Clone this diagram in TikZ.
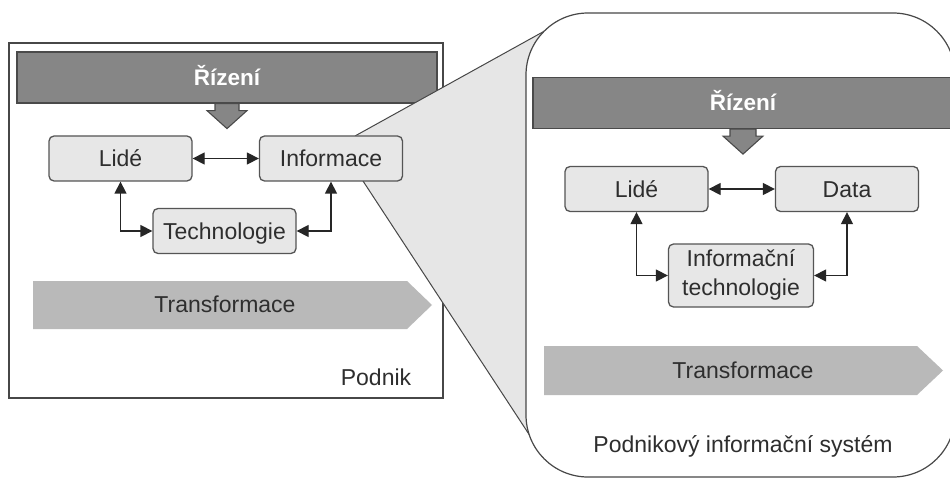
\documentclass[tikz,border=0pt]{standalone}
\usepackage{fontspec}
\setmainfont{Liberation Sans}
\usetikzlibrary{arrows.meta}
\definecolor{bardark}{HTML}{868686}
\definecolor{barline}{HTML}{4A4A4A}
\definecolor{boxfill}{HTML}{E7E7E7}
\definecolor{boxline}{HTML}{555555}
\definecolor{trfill}{HTML}{B9B9B9}
\definecolor{funnelfill}{HTML}{E6E6E6}
\definecolor{txt}{HTML}{2E2E2E}
\definecolor{frameline}{HTML}{474747}
\begin{document}
\begin{tikzpicture}[x=1pt,y=-1pt,
  every node/.style={font=\fontsize{23}{29}\selectfont, text=txt},
  bar/.style={draw=barline, fill=bardark, line width=1.2pt, minimum width=420pt,
    minimum height=51pt, inner sep=0pt, text=white,
    font=\fontsize{22.5}{29}\selectfont\bfseries, text height=16pt, text depth=0pt},
  downarrow/.style={draw=barline, fill=bardark, line width=1.1pt, line join=miter},
  box/.style={draw=boxline, fill=boxfill, rounded corners=5pt, line width=1.3pt,
    minimum width=143pt, minimum height=45pt, inner sep=0pt,
    text height=16pt, text depth=0pt},
  itbox/.style={draw=boxline, fill=boxfill, rounded corners=5pt, line width=1.3pt,
    minimum width=145pt, minimum height=63pt, inner sep=0pt},
  conn/.style={draw=black!85, line width=1.3pt,
    {Triangle[length=12pt,width=12pt]}-{Triangle[length=12pt,width=12pt]}},
  trshape/.style={fill=trfill},
  frame/.style={draw=frameline, line width=1.2pt},
  funnelline/.style={draw=frameline, line width=1pt},
  label/.style={anchor=base, inner sep=0pt}
]
\useasboundingbox (0,0) rectangle (950,481);
\clip (0,0) rectangle (950,481);

% ---------- left panel: Podnik ----------
\node[frame, fill=white, minimum width=434pt, minimum height=355pt, inner sep=0pt] (podnik) at (226,220.5) {};
\node[bar] (bar1) at (227,77.5) {Řízení};
\draw[downarrow] (bar1.south) ++(-2,0) ++(-10,0) -- ++(0,7) -- ++(-8,0) -- ++(20,18) -- ++(20,-18) -- ++(-8,0) -- ++(0,-7) -- cycle;
\fill[trshape] (33,281) -- (407,281) -- (432,305) -- (407,329) -- (33,329) -- cycle;
\node[label] (tr1) at (225,312) {Transformace};
\node[label] (podniktext) at (376,385) {Podnik};

% ---------- funnel ----------
\coordinate (fa) at (355,136);
\coordinate (fb) at (544.2,31.2);
\coordinate (fc) at (363,181);
\coordinate (fd) at (529.2,434.6);
\fill[funnelfill] (fa) -- (fb) -- (600,60) -- (600,440) -- (fd) -- (fc) -- cycle;
\draw[funnelline] (fa) -- (fb);
\draw[funnelline] (fc) -- (fd);

% ---------- left boxes ----------
\node[box] (lide1) at (120.5,158.5) {Lidé};
\node[box] (info1) at (331,158.5) {Informace};
\node[box] (tech1) at (224.5,231) {Technologie};
\draw[conn] (lide1) -- (info1);
\draw[conn] (lide1.south) |- (tech1.west);
\draw[conn] (info1.south) |- (tech1.east);

% ---------- right panel: Podnikový informační systém ----------
\node[frame, fill=white, rounded corners=62pt, minimum width=429pt, minimum height=464pt, inner sep=0pt] (pis) at (740.5,245) {};
\node[bar] (bar2) at (743,103) {Řízení};
\draw[downarrow] (bar2.south) ++(-1,0) ++(-12,0) -- ++(0,7) -- ++(-7,0) -- ++(20,18) -- ++(20,-18) -- ++(-7,0) -- ++(0,-7) -- cycle;
\node[box] (lide2) at (636.5,189) {Lidé};
\node[box] (data2) at (847,189) {Data};
\node[itbox] (it2) at (741,275.5) {\begin{tabular}{@{}c@{}}Informační\\technologie\end{tabular}};
\draw[conn] (lide2) -- (data2);
\draw[conn] (lide2.south) |- (it2.west);
\draw[conn] (data2.south) |- (it2.east);
\fill[trshape] (544,346) -- (917,346) -- (943,370.5) -- (917,395) -- (544,395) -- cycle;
\node[label] (tr2) at (743,378) {Transformace};
\node[label] (pistext) at (743,452) {Podnikový informační systém};
\end{tikzpicture}
\end{document}
